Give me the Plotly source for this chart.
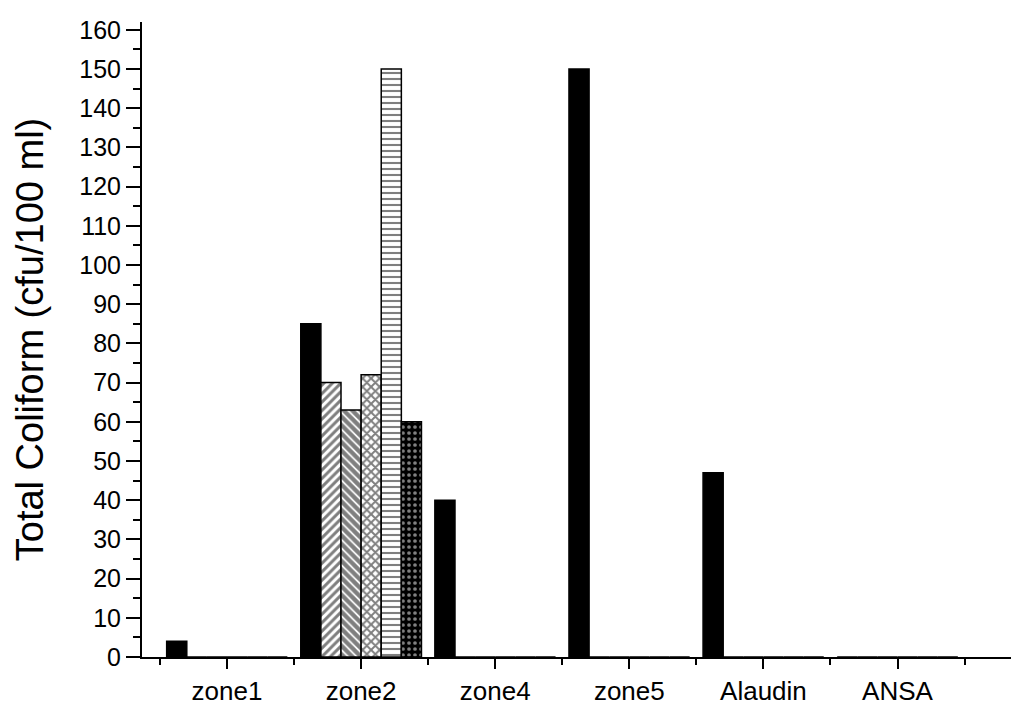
import plotly.graph_objects as go

categories = ["zone1", "zone2", "zone4", "zone5", "Alaudin", "ANSA"]
series1 = [4, 85, 40, 150, 47, 0]
series2 = [0, 70, 0, 0, 0, 0]
series3 = [0, 63, 0, 0, 0, 0]
series4 = [0, 72, 0, 0, 0, 0]
series5 = [0, 150, 0, 0, 0, 0]
series6 = [0, 60, 0, 0, 0, 0]

xpos = list(range(len(categories)))

styles = [
    dict(color="black", pattern=dict(shape="")),
    dict(color="white", pattern=dict(shape="/", fgcolor="black", bgcolor="white", size=6, solidity=0.5)),
    dict(color="white", pattern=dict(shape="\\", fgcolor="black", bgcolor="white", size=6, solidity=0.7)),
    dict(color="white", pattern=dict(shape="x", fgcolor="black", bgcolor="white", size=6, solidity=0.55)),
    dict(color="white", pattern=dict(shape="-", fgcolor="black", bgcolor="white", size=6, solidity=0.35)),
    dict(color="black", pattern=dict(shape=".", fgcolor="white", bgcolor="black", size=6, solidity=0.3)),
]

fig = go.Figure()
for vals, st in zip([series1, series2, series3, series4, series5, series6], styles):
    fig.add_trace(go.Bar(
        x=xpos, y=vals,
        marker=dict(color=st["color"], pattern=st["pattern"],
                    line=dict(color="black", width=1.5)),
        showlegend=False,
    ))

fig.update_layout(
    width=1019, height=706,
    margin=dict(l=134, r=8, t=14, b=55),
    paper_bgcolor="white", plot_bgcolor="white",
    barmode="group", bargap=0.1, bargroupgap=0,
    font=dict(family="Liberation Sans, Arial", color="black"),
)
fig.update_xaxes(
    range=[-0.634, 5.906],
    tickmode="array", tickvals=xpos, ticktext=categories,
    ticks="outside", ticklen=10, tickwidth=2, tickcolor="black",
    showline=True, linecolor="black", linewidth=2,
    showgrid=False, zeroline=False,
    tickfont=dict(size=26),
    minor=dict(ticks="outside", ticklen=6, tickwidth=2, tickcolor="black",
               tick0=0.5, dtick=1, showgrid=False),
)
fig.update_yaxes(
    range=[0, 162],
    tickmode="linear", tick0=0, dtick=10,
    ticks="outside", ticklen=14, tickwidth=2, tickcolor="black",
    showline=True, linecolor="black", linewidth=2,
    showgrid=False, zeroline=False,
    tickfont=dict(size=25),
    title=dict(text="Total Coliform (cfu/100 ml)", font=dict(size=38), standoff=24),
    minor=dict(ticks="outside", ticklen=7, tickwidth=2, tickcolor="black",
               dtick=5, showgrid=False),
)

fig.write_html("out.html")
